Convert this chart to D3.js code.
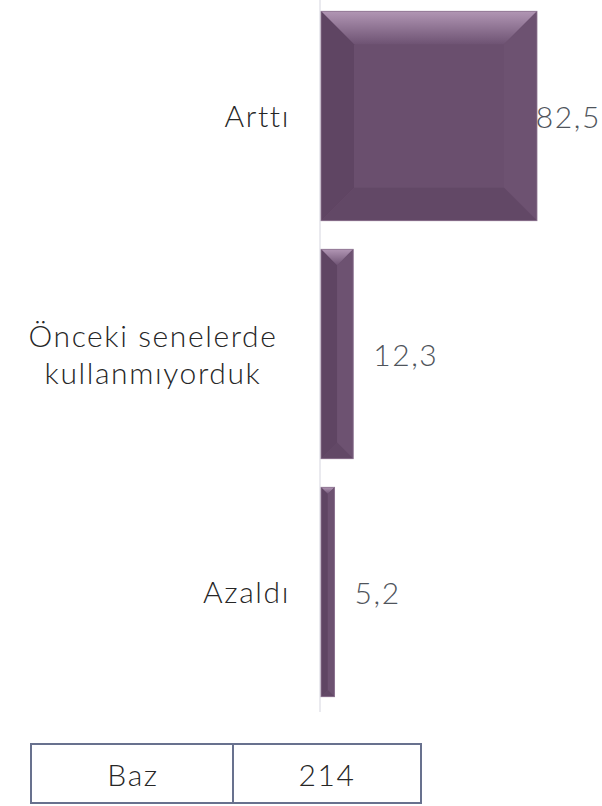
<!DOCTYPE html>
<html>
<head>
<meta charset="utf-8">
<script src="https://cdn.jsdelivr.net/npm/d3@7"></script>
<style>
  body { margin: 0; background: #fff; }
  svg text { font-family: "Lato", "Open Sans", sans-serif; font-weight: 300; letter-spacing: 1.6px; }
</style>
</head>
<body>
<div id="chart"></div>
<script>
// Data
const categories = ['Arttı', 'Önceki senelerde\nkullanmıyorduk', 'Azaldı'];
const values = [82.5, 12.3, 5.2];
const baseLabel = 'Baz';
const baseValue = 214;

const W = 602, H = 806;
const X0 = 321;
const FS = 30;

const svg = d3.select('#chart').append('svg')
  .attr('width', W).attr('height', H);

const defs = svg.append('defs');
const topGrad = defs.append('linearGradient').attr('id', 'bevel-top')
  .attr('x1', 0).attr('y1', 0).attr('x2', 0).attr('y2', 1);
topGrad.append('stop').attr('offset', '0%').attr('stop-color', '#b196b4');
topGrad.append('stop').attr('offset', '100%').attr('stop-color', '#6e5373');

const x = d3.scaleLinear().domain([0, 82.5]).range([X0, 537]);
const y = d3.scaleBand().domain(categories).range([-3, 711])
  .paddingInner(0.12).paddingOuter(0.06);

// axis line
svg.append('line')
  .attr('x1', X0 - 1).attr('x2', X0 - 1)
  .attr('y1', 0).attr('y2', 712)
  .attr('stroke', '#e3e3ea').attr('stroke-width', 1.5);

const bars = svg.selectAll('.bar')
  .data(categories.map((c, i) => ({ c, v: values[i] })))
  .join('g').attr('class', 'bar');

bars.each(function(d) {
  const g = d3.select(this);
  const x0 = X0, x1 = x(d.v);
  const y0 = y(d.c), y1 = y0 + y.bandwidth();
  const b = Math.min(33, (x1 - x0) / 2, (y1 - y0) / 2);
  g.append('rect').attr('x', x0).attr('y', y0)
    .attr('width', x1 - x0).attr('height', y1 - y0)
    .attr('fill', '#6a4f6e');
  const poly = (pts, fill) => g.append('polygon')
    .attr('points', pts.map(p => p.join(',')).join(' '))
    .attr('fill', fill);
  poly([[x0, y0], [x1, y0], [x1 - b, y0 + b], [x0 + b, y0 + b]], 'url(#bevel-top)');
  poly([[x0, y0], [x0 + b, y0 + b], [x0 + b, y1 - b], [x0, y1]], '#5f4563');
  poly([[x1, y0], [x1, y1], [x1 - b, y1 - b], [x1 - b, y0 + b]], '#6d5271');
  poly([[x0, y1], [x1, y1], [x1 - b, y1 - b], [x0 + b, y1 - b]], '#624866');
  g.append('rect').attr('x', x0).attr('y', y0)
    .attr('width', x1 - x0).attr('height', y1 - y0)
    .attr('fill', 'none').attr('stroke', '#8e7592').attr('stroke-width', 0.8);
});

// category labels
categories.forEach(c => {
  const lines = c.split('\n');
  const cy = y(c) + y.bandwidth() / 2;
  const t = svg.append('text')
    .attr('font-size', FS).attr('fill', '#262626');
  lines.forEach((l, i) => {
    t.append('tspan').attr('x', lines.length > 1 ? 153 : 290)
      .attr('text-anchor', lines.length > 1 ? 'middle' : 'end')
      .attr('y', cy + 11 + (i - (lines.length - 1) / 2) * 37)
      .text(l);
  });
});

// value labels
categories.forEach((c, i) => {
  const t = svg.append('text')
    .attr('y', y(c) + y.bandwidth() / 2 + 11.5)
    .attr('font-size', FS).attr('fill', '#4f545b')
    .text(values[i].toFixed(1).replace('.', ','));
  const w = t.node().getComputedTextLength();
  t.attr('x', Math.min(x(values[i]) + 20, W - 1 - w));
});

// base table
const tbl = svg.append('g');
tbl.append('rect').attr('x', 31).attr('y', 744).attr('width', 390).attr('height', 59)
  .attr('fill', 'none').attr('stroke', '#68718e').attr('stroke-width', 2);
tbl.append('line').attr('x1', 233).attr('x2', 233).attr('y1', 744).attr('y2', 803)
  .attr('stroke', '#68718e').attr('stroke-width', 2);
tbl.append('text').attr('x', 133).attr('y', 786).attr('text-anchor', 'middle')
  .attr('font-size', FS).attr('fill', '#262626').text(baseLabel);
tbl.append('text').attr('x', 327).attr('y', 786).attr('text-anchor', 'middle')
  .attr('font-size', FS).attr('fill', '#262626').text(baseValue);
</script>
</body>
</html>
